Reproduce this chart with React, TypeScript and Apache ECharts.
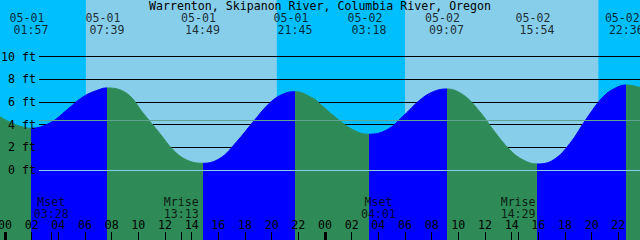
import React, { useEffect, useRef } from "react";
import * as echarts from "echarts";

const TITLE = "Warrenton, Skipanon River, Columbia River, Oregon";

// Tide curve: hours after 05-01 00:00 and height in feet
const tideHours = [
  -0.375, 1.95, 3.375, 4.63, 5.87, 7.125, 7.65, 9.13, 10.37, 11.625, 12.62, 13.63,
  14.82, 16.125, 17.38, 18.62, 19.875, 20.87, 21.75, 23.12, 23.625, 24.88, 26.12,
  27.3, 28.63, 29.87, 31.125, 32.12, 33.12, 34.37, 35.625, 36.62, 37.875, 38.87,
  39.9, 41.12, 42.375, 43.63, 44.87, 45.88, 46.6, 47.625,
];
const tideFeet = [
  4.7, 3.68, 4.15, 5.29, 6.47, 7.12, 7.24, 6.76, 5.0, 3.2, 1.76, 0.88,
  0.59, 1.03, 2.5, 4.26, 5.94, 6.71, 6.91, 6.32, 5.82, 4.56, 3.53,
  3.15, 3.53, 4.76, 6.18, 6.91, 7.15, 6.62, 5.12, 3.53, 1.76, 0.88,
  0.53, 0.88, 2.35, 4.56, 6.47, 7.29, 7.5, 7.29,
];

// High and low tides
const tideDates = ["05-01", "05-01", "05-01", "05-01", "05-02", "05-02", "05-02", "05-02"];
const tideTimes = ["01:57", "07:39", "14:49", "21:45", "03:18", "09:07", "15:54", "22:36"];
const tideKinds = ["low", "high", "low", "high", "low", "high", "low", "high"];

// Moon events
const moonNames = ["Mset", "Mrise", "Mset", "Mrise"];
const moonDates = ["05-01", "05-01", "05-02", "05-02"];
const moonTimes = ["03:28", "13:13", "04:01", "14:29"];

// Sun events (sky colour changes)
const sunDates = ["05-01", "05-01", "05-02", "05-02"];
const sunTimes = ["06:04", "20:23", "06:00", "20:30"];
const sunKinds = ["rise", "set", "rise", "set"];

// Level lines (ft)
const levelLines = [2, 4, 6, 8, 10];
const datumLevel = 0;
const meanLevel = 4.39;

// Hour tick labels (hours after 05-01 00:00)
const hourTicks = [0, 2, 4, 6, 8, 10, 12, 14, 16, 18, 20, 22, 24, 26, 28, 30, 32, 34, 36, 38, 40, 42, 44, 46, 48];
const midnightTicks = [0, 24, 48];

const X_MIN = -0.375;
const X_MAX = 47.625;
const Y_MIN = -6.18;
const Y_MAX = 15.0;

const DAY_SKY = "#87CEEB";
const NIGHT_SKY = "#00BFFF";
const RISE = "#0000FF";
const FALL = "#2E8B57";
const MEAN_COLOR = "#5FA592";
const DATUM_COLOR = "#87CEEB";
const FONT = "'DejaVu Sans Mono', monospace";
const FS = 11.6;

function toHours(date: string, time: string): number {
  const day = parseInt(date.split("-")[1], 10) - 1;
  const [hh, mm] = time.split(":").map((s) => parseInt(s, 10));
  return day * 24 + hh + mm / 60;
}

function buildOption() {
  const tideEventHours = tideDates.map((d, i) => toHours(d, tideTimes[i]));
  const moonHours = moonDates.map((d, i) => toHours(d, moonTimes[i]));
  const sunHours = sunDates.map((d, i) => toHours(d, sunTimes[i]));

  // night bands
  const nights: [number, number][] = [];
  let start: number | null = X_MIN;
  sunKinds.forEach((k, i) => {
    if (k === "rise") {
      if (start !== null) nights.push([start, sunHours[i]]);
      start = null;
    } else {
      start = sunHours[i];
    }
  });
  if (start !== null) nights.push([start, X_MAX]);

  // rising / falling pieces
  const pieces: any[] = [];
  let prev: number | null = null;
  tideEventHours.forEach((h, i) => {
    const color = tideKinds[i] === "high" ? RISE : FALL;
    if (prev === null) pieces.push({ lt: h, color });
    else pieces.push({ gte: prev, lt: h, color });
    prev = h;
  });
  pieces.push({ gte: prev, color: tideKinds[tideKinds.length - 1] === "high" ? FALL : RISE });

  const tickHours = hourTicks.concat(moonHours).sort((a, b) => a - b);

  const textStyle = { color: "#000", fontFamily: FONT, fontSize: FS };

  const labelScatter = (
    hours: number[],
    names: string[],
    y: number,
    offset: [number, number]
  ) => ({
    type: "scatter",
    xAxisIndex: 0,
    yAxisIndex: 0,
    silent: true,
    clip: false,
    z: 5,
    symbolSize: 0,
    itemStyle: { color: "rgba(0,0,0,0)" },
    data: hours.map((h, i) => ({ value: [h, y], name: names[i] })),
    label: {
      show: true,
      position: "inside",
      offset,
      formatter: "{b}",
      align: "center",
      verticalAlign: "middle",
      ...textStyle,
    },
  });

  return {
    animation: false,
    backgroundColor: DAY_SKY,
    title: {
      text: TITLE,
      left: "center",
      top: 0,
      padding: 0,
      textStyle: { ...textStyle, fontWeight: "normal", lineHeight: 12 },
    },
    grid: [
      { left: 0, right: 0, top: 0, bottom: 0, containLabel: false, outerBoundsMode: "none" },
      { left: 39, right: 0, top: 0, bottom: 0, containLabel: false, outerBoundsMode: "none" },
    ],
    xAxis: [
      {
        gridIndex: 0,
        type: "value",
        position: "bottom",
        min: X_MIN,
        max: X_MAX,
        z: 6,
        axisLine: { show: false, onZero: false },
        splitLine: { show: false },
        axisTick: {
          show: true,
          inside: true,
          length: 8,
          customValues: tickHours,
          lineStyle: { color: "#000", width: 1 },
        },
        axisLabel: {
          show: true,
          inside: true,
          margin: 9,
          customValues: hourTicks,
          hideOverlap: false,
          formatter: (v: number) => String(Math.round(v) % 24).padStart(2, "0"),
          ...textStyle,
        },
      },
      {
        gridIndex: 0,
        type: "value",
        position: "bottom",
        min: X_MIN,
        max: X_MAX,
        z: 6,
        axisLine: { show: false, onZero: false },
        splitLine: { show: false },
        axisTick: {
          show: true,
          inside: true,
          length: 8,
          customValues: midnightTicks,
          lineStyle: { color: "#000", width: 3 },
        },
        axisLabel: { show: false },
      },
      { gridIndex: 1, type: "value", min: 0, max: 1, show: false, axisLine: { onZero: false } },
    ],
    yAxis: [
      { gridIndex: 0, type: "value", min: Y_MIN, max: Y_MAX, show: false },
      { gridIndex: 1, type: "value", min: Y_MIN, max: Y_MAX, show: false },
    ],
    visualMap: {
      type: "piecewise",
      show: false,
      seriesIndex: 0,
      dimension: 0,
      pieces,
    },
    series: [
      {
        type: "line",
        xAxisIndex: 0,
        yAxisIndex: 0,
        silent: true,
        z: 3,
        smooth: 0.4,
        symbol: "none",
        lineStyle: { width: 1 },
        areaStyle: { opacity: 1, origin: "start" },
        data: tideHours.map((h, i) => [h, tideFeet[i]]),
        markArea: {
          silent: true,
          z: 1,
          itemStyle: { color: NIGHT_SKY, opacity: 1, borderWidth: 0 },
          data: nights.map(([a, b]) => [{ xAxis: a }, { xAxis: b }]),
        },
      },
      {
        type: "line",
        xAxisIndex: 2,
        yAxisIndex: 1,
        silent: true,
        data: [],
        markLine: {
          silent: true,
          z: 2,
          symbol: ["none", "none"],
          precision: 3,
          label: { show: false },
          lineStyle: { color: "#000", width: 1, type: "solid", opacity: 1 },
          data: levelLines.map((v) => ({ yAxis: v })),
        },
      },
      {
        type: "line",
        xAxisIndex: 2,
        yAxisIndex: 1,
        silent: true,
        data: [],
        markLine: {
          silent: true,
          z: 4,
          symbol: ["none", "none"],
          precision: 3,
          label: {
            show: true,
            position: "start",
            distance: 3,
            ...textStyle,
          },
          lineStyle: { width: 1, type: "solid", opacity: 1 },
          data: [
            {
              yAxis: datumLevel,
              lineStyle: { color: DATUM_COLOR },
              label: { formatter: `${datumLevel} ft` },
            },
            { yAxis: meanLevel, lineStyle: { color: MEAN_COLOR }, label: { show: false } },
            ...levelLines.map((v) => ({
              yAxis: v,
              lineStyle: { color: "rgba(0,0,0,0)" },
              label: { formatter: `${v} ft` },
            })),
          ],
        },
      },
      labelScatter(tideEventHours, tideDates, Y_MAX, [-4, 17.7]),
      labelScatter(tideEventHours, tideTimes, Y_MAX, [0, 29.5]),
      labelScatter(moonHours, moonNames, Y_MIN, [0, -38]),
      labelScatter(moonHours, moonTimes, Y_MIN, [0, -26.2]),
    ],
  };
}

export default function App() {
  const ref = useRef<HTMLDivElement>(null);
  useEffect(() => {
    if (!ref.current) return;
    const chart = echarts.init(ref.current, null, { renderer: "svg" });
    chart.setOption(buildOption() as any);
    return () => chart.dispose();
  }, []);
  return (
    <div
      ref={ref}
      style={{ position: "fixed", left: 0, top: 0, width: 640, height: 240 }}
    />
  );
}
